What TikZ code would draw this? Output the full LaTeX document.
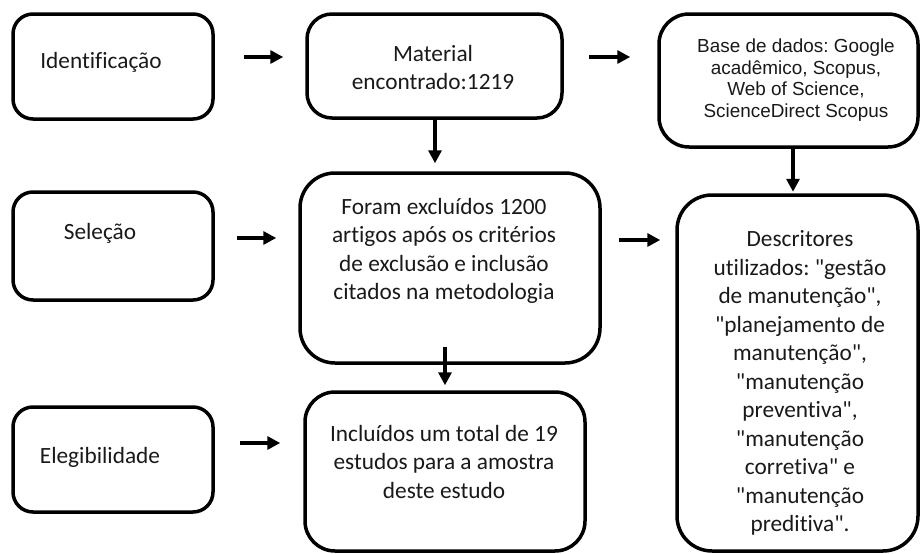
\documentclass[tikz,border=0pt]{standalone}
\usepackage{fontspec}
\newfontfamily\bodyfont{Carlito}[Ligatures=NoCommon]
\newfontfamily\arialfont{Liberation Sans}[Ligatures=NoCommon]
\usetikzlibrary{arrows.meta}
\frenchspacing
\begin{document}
\begin{tikzpicture}[x=1pt,y=-1pt,
  box/.style={draw=black, line width=3.5pt, rectangle, inner sep=0pt},
  lbl/.style={font=\bodyfont\fontsize{23.3}{28.5}\selectfont, align=center, inner sep=0pt, text=black!90},
  arlbl/.style={font=\arialfont\fontsize{18.9}{21.7}\selectfont, align=center, inner sep=0pt, text=black!90},
  arr/.style={line width=4pt, -{Triangle[length=13pt,width=13pt]}}]
\useasboundingbox (0,0) rectangle (921,554);

% boxes
\node[box, rounded corners=20pt, minimum width=200pt, minimum height=105pt] (idb) at (113,66.5) {};
\node[box, rounded corners=25pt, minimum width=255pt, minimum height=104pt] (matb) at (434.5,66) {};
\node[box, rounded corners=30pt, minimum width=259pt, minimum height=133pt] (baseb) at (788.5,80.5) {};
\node[box, rounded corners=20pt, minimum width=200pt, minimum height=108pt] (selb) at (113,246) {};
\node[box, rounded corners=35pt, minimum width=300pt, minimum height=190pt] (forb) at (450,268) {};
\node[box, rounded corners=35pt, minimum width=241pt, minimum height=356pt] (desb) at (797.5,373) {};
\node[box, rounded corners=20pt, minimum width=200pt, minimum height=105pt] (eleb) at (113,459.5) {};
\node[box, rounded corners=30pt, minimum width=280pt, minimum height=159pt] (incb) at (445,471.5) {};

% texts
\node[lbl] (idt) at (101,62) {Identificação};
\node[lbl] (matt) at (433,67.5) {Material\\encontrado:1219};
\node[arlbl] (baset) at (796,80) {Base de dados: Google\\acadêmico, Scopus,\\Web of Science,\\ScienceDirect Scopus};
\node[lbl] (selt) at (100,233) {Seleção};
\node[lbl] (fort) at (444,251) {Foram excluídos 1200\\artigos após os critérios\\de exclusão e inclusão\\citados na metodologia};
\node[lbl] (dest) at (800,383) {Descritores\\utilizados: "gestão\\de manutenção",\\"planejamento de\\manutenção",\\"manutenção\\preventiva",\\"manutenção\\corretiva" e\\"manutenção\\preditiva".};
\node[lbl] (elet) at (100,457) {Elegibilidade};
\node[lbl] (inct) at (444,461.5) {Incluídos um total de 19\\estudos para a amostra\\deste estudo};

% connectors
\draw[arr, shorten <=29pt, shorten >=22pt] ([yshift=9.5pt]idb.east) -- ([yshift=9pt]matb.west);
\draw[arr, shorten <=25pt, shorten >=27pt] ([yshift=9pt]matb.east) -- ([yshift=23.5pt]baseb.west);
\draw[arr, shorten >=8pt] ([xshift=0.5pt]matb.south) -- ([xshift=-15pt]forb.north);
\draw[arr, shorten >=1.5pt] ([xshift=4.5pt]baseb.south) -- ([xshift=-4.5pt]desb.north);
\draw[arr, shorten <=22pt, shorten >=22pt] ([yshift=8pt]selb.east) -- ([yshift=30pt]forb.west);
\draw[arr, shorten <=17pt, shorten >=15pt] ([yshift=28pt]forb.east) -- ([yshift=133pt]desb.west);
\draw[arr, shorten <=-18pt, shorten >=5pt] ([xshift=-5pt]forb.south) -- (incb.north);
\draw[arr, shorten <=25pt, shorten >=23pt] ([yshift=16.5pt]eleb.east) -- ([yshift=28.5pt]incb.west);
\end{tikzpicture}
\end{document}
